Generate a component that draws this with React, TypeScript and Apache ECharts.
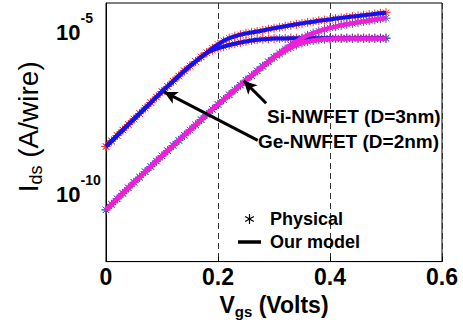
import React, { useEffect, useRef } from "react";
import * as echarts from "echarts";

// Gate voltage samples (V)
const vgs = [
  0.0, 0.01, 0.02, 0.03, 0.04, 0.05, 0.06, 0.07, 0.08, 0.09,
  0.1, 0.11, 0.12, 0.13, 0.14, 0.15, 0.16, 0.17, 0.18, 0.19,
  0.2, 0.21, 0.22, 0.23, 0.24, 0.25, 0.26, 0.27, 0.28, 0.29,
  0.3, 0.31, 0.32, 0.33, 0.34, 0.35, 0.36, 0.37, 0.38, 0.39,
  0.4, 0.41, 0.42, 0.43, 0.44, 0.45, 0.46, 0.47, 0.48, 0.49, 0.5,
];

// log10(Ids)
const geUpperExp = [
  -8.44, -8.27, -8.1, -7.93, -7.76, -7.59, -7.42, -7.25, -7.08, -6.91,
  -6.74, -6.58, -6.42, -6.26, -6.1, -5.95, -5.81, -5.67, -5.54, -5.4,
  -5.28, -5.17, -5.09, -5.03, -4.98, -4.94, -4.91, -4.88, -4.85, -4.81,
  -4.78, -4.75, -4.72, -4.69, -4.66, -4.63, -4.6, -4.58, -4.55, -4.53,
  -4.51, -4.48, -4.46, -4.44, -4.42, -4.4, -4.38, -4.36, -4.34, -4.32, -4.3,
];
const geSatExp = [
  -8.44, -8.27, -8.1, -7.93, -7.76, -7.59, -7.42, -7.25, -7.08, -6.91,
  -6.74, -6.58, -6.42, -6.26, -6.1, -5.95, -5.81, -5.67, -5.54, -5.46,
  -5.4, -5.35, -5.3, -5.26, -5.22, -5.19, -5.16, -5.14, -5.12, -5.11,
  -5.1, -5.1, -5.1, -5.09, -5.09, -5.09, -5.09, -5.09, -5.09, -5.09,
  -5.09, -5.09, -5.09, -5.08, -5.08, -5.08, -5.08, -5.08, -5.08, -5.08, -5.08,
];
const siUpperExp = [
  -10.4, -10.23, -10.06, -9.89, -9.72, -9.55, -9.39, -9.22, -9.06, -8.89,
  -8.73, -8.57, -8.41, -8.25, -8.09, -7.93, -7.77, -7.61, -7.45, -7.29,
  -7.14, -6.99, -6.84, -6.69, -6.54, -6.39, -6.25, -6.1, -5.96, -5.82,
  -5.68, -5.55, -5.42, -5.3, -5.19, -5.09, -5.0, -4.93, -4.87, -4.82,
  -4.77, -4.73, -4.69, -4.66, -4.63, -4.6, -4.57, -4.54, -4.52, -4.49, -4.47,
];
const siSatExp = [
  -10.4, -10.23, -10.06, -9.89, -9.72, -9.55, -9.39, -9.22, -9.06, -8.89,
  -8.73, -8.57, -8.41, -8.25, -8.09, -7.93, -7.77, -7.61, -7.45, -7.29,
  -7.14, -6.99, -6.84, -6.69, -6.54, -6.39, -6.25, -6.1, -5.96, -5.82,
  -5.68, -5.58, -5.47, -5.38, -5.3, -5.24, -5.19, -5.16, -5.14, -5.12,
  -5.11, -5.1, -5.1, -5.1, -5.1, -5.1, -5.1, -5.1, -5.1, -5.1, -5.1,
];

// y tick exponents that carry labels / grid lines
const yLabelExps = [-5, -10];

// arrow annotations: [fromV, fromExp, toV, toExp]
const siArrow = [0.286, -7.1, 0.246, -6.41];
const geArrow = [0.271, -8.25, 0.104, -6.75];

const FONT = '"Liberation Sans", Arial, sans-serif';
const STAR_DATA = "path://M0,-1L0,1M-1,0L1,0M-0.7,-0.7L0.7,0.7M-0.7,0.7L0.7,-0.7";
const STAR_LEGEND =
  "path://M-0.12,-1L0.12,-1L0.12,1L-0.12,1ZM0.806,-0.604L0.926,-0.396L-0.806,0.604L-0.926,0.396ZM0.926,0.396L0.806,0.604L-0.926,-0.396L-0.806,-0.604Z";
const LINE_LEGEND = "path://M0,0L23,0L23,3.5L0,3.5Z";

const toData = (exps: number[]) => vgs.map((v, i) => [v, Math.pow(10, exps[i])]);

export default function App() {
  const ref = useRef<HTMLDivElement>(null);
  useEffect(() => {
    if (!ref.current) return;
    const chart = echarts.init(ref.current, null, { renderer: "svg" });

    const RED = "#ff2b2b";
    const BLUE_STAR = "#3b58c0";
    const BLUE = "#1212ee";
    const MAGENTA = "#f01ed6";

    const starSeries = (exps: number[], color: string, extra: any = {}) => ({
      type: "scatter",
      name: "Physical",
      data: toData(exps),
      symbol: STAR_DATA,
      symbolSize: 9,
      itemStyle: { color, borderColor: color, borderWidth: 1, opacity: 1 },
      silent: true,
      z: 2,
      ...extra,
    });
    const lineSeries = (exps: number[], color: string, width: number, extra: any = {}) => ({
      type: "line",
      name: "Our model",
      data: toData(exps),
      symbol: "none",
      showSymbol: false,
      lineStyle: { color, width },
      itemStyle: { color },
      silent: true,
      z: 3,
      ...extra,
    });

    const option: any = {
      animation: false,
      textStyle: { fontFamily: FONT },
      grid: {
        left: 106,
        top: 3,
        right: 21,
        bottom: 60,
        show: true,
        borderColor: "#000",
        borderWidth: 1,
      },
      legend: {
        orient: "vertical",
        left: 233,
        top: 204,
        itemWidth: 23,
        itemHeight: 10,
        itemGap: 3,
        selectedMode: false,
        textStyle: {
          fontSize: 18,
          fontWeight: "bold",
          color: "#000",
          fontFamily: FONT,
          lineHeight: 20,
          padding: [0, 0, 0, 4],
        },
        data: [
          {
            name: "Physical",
            icon: STAR_LEGEND,
            itemStyle: { color: "#000", borderColor: "#000", borderWidth: 0 },
          },
          {
            name: "Our model",
            icon: LINE_LEGEND,
            itemStyle: { color: "#000", borderWidth: 0 },
          },
        ],
      },
      xAxis: {
        type: "value",
        min: 0,
        max: 0.6,
        interval: 0.2,
        name: "{v|V}{g|gs}{p| (Volts)}",
        nameLocation: "middle",
        nameGap: 17,
        nameTextStyle: {
          rich: {
            v: { fontSize: 23, fontWeight: "bold", color: "#000", fontFamily: FONT, lineHeight: 24, verticalAlign: "top" },
            g: { fontSize: 15, fontWeight: "bold", color: "#000", fontFamily: FONT, lineHeight: 36 },
            p: { fontSize: 23, fontWeight: "bold", color: "#000", fontFamily: FONT, lineHeight: 24, verticalAlign: "top" },
          },
        },
        axisLine: { show: true, lineStyle: { color: "#000", width: 1 } },
        axisTick: { show: true, inside: true, length: 5, lineStyle: { color: "#000" } },
        axisLabel: {
          fontSize: 23,
          fontWeight: "bold",
          color: "#000",
          fontFamily: FONT,
          margin: 4,
          formatter: (v: number) => (v === 0 ? "0" : v.toFixed(1)),
        },
        splitLine: { show: true, lineStyle: { type: [6, 4], color: "#333", width: 1 } },
      },
      yAxis: {
        type: "log",
        logBase: 10,
        min: 1e-12,
        max: 1e-4,
        name: "{i|I}{d|ds}{t| (A/wire)}",
        nameLocation: "middle",
        nameGap: 46,
        nameTextStyle: {
          padding: [0, 0, 0, 11],
          rich: {
            i: { fontSize: 28, color: "#000", fontFamily: FONT, lineHeight: 30, verticalAlign: "top" },
            d: { fontSize: 18, color: "#000", fontFamily: FONT, lineHeight: 44 },
            t: { fontSize: 28, color: "#000", fontFamily: FONT, lineHeight: 30, verticalAlign: "top" },
          },
        },
        axisLine: { show: true, lineStyle: { color: "#000", width: 1 } },
        axisTick: { show: false },
        splitLine: { show: false },
        axisLabel: {
          align: "left",
          margin: 50,
          padding: [0, 0, 5, 0],
          formatter: (v: number) => {
            const e = Math.round(Math.log10(v));
            return yLabelExps.indexOf(e) >= 0 ? `{b|10}{s|${e}}` : "";
          },
          rich: {
            b: { fontSize: 22, fontWeight: "bold", color: "#000", fontFamily: FONT, lineHeight: 43 },
            s: { fontSize: 14, fontWeight: "bold", color: "#000", fontFamily: FONT, lineHeight: 14, verticalAlign: "top" },
          },
        },
      },
      series: [
        starSeries(geUpperExp, RED, {
          markLine: {
            silent: true,
            symbol: "none",
            label: { show: false },
            lineStyle: { type: [6, 4], color: "#333", width: 1 },
            data: yLabelExps.map((e) => ({ yAxis: Math.pow(10, e) })),
          },
        }),
        starSeries(geSatExp, RED),
        starSeries(siUpperExp, BLUE_STAR),
        starSeries(siSatExp, BLUE_STAR),
        lineSeries(geUpperExp, BLUE, 4),
        lineSeries(geSatExp, BLUE, 4),
        lineSeries(siUpperExp, MAGENTA, 4.5),
        lineSeries(siSatExp, MAGENTA, 4.5, {
          z: 4,
          markLine: {
            silent: true,
            symbol: ["none", "arrow"],
            symbolSize: [10, 13],
            label: { show: false },
            lineStyle: { type: "solid", color: "#000", width: 3 },
            data: [siArrow, geArrow].map((a) => [
              { coord: [a[0], Math.pow(10, a[1])] },
              { coord: [a[2], Math.pow(10, a[3])] },
            ]),
          },
        }),
      ],
      graphic: [
        {
          type: "text",
          left: 267,
          top: 107,
          style: { text: "Si-NWFET (D=3nm)", font: `bold 19px ${FONT}`, fill: "#000" },
        },
        {
          type: "text",
          left: 258,
          top: 132,
          style: { text: "Ge-NWFET (D=2nm)", font: `bold 19px ${FONT}`, fill: "#000" },
        },
      ],
    };
    chart.setOption(option);
    return () => chart.dispose();
  }, []);
  return (
    <div
      ref={ref}
      style={{ position: "absolute", left: 0, top: 0, width: 463, height: 324, background: "#fff" }}
    />
  );
}
